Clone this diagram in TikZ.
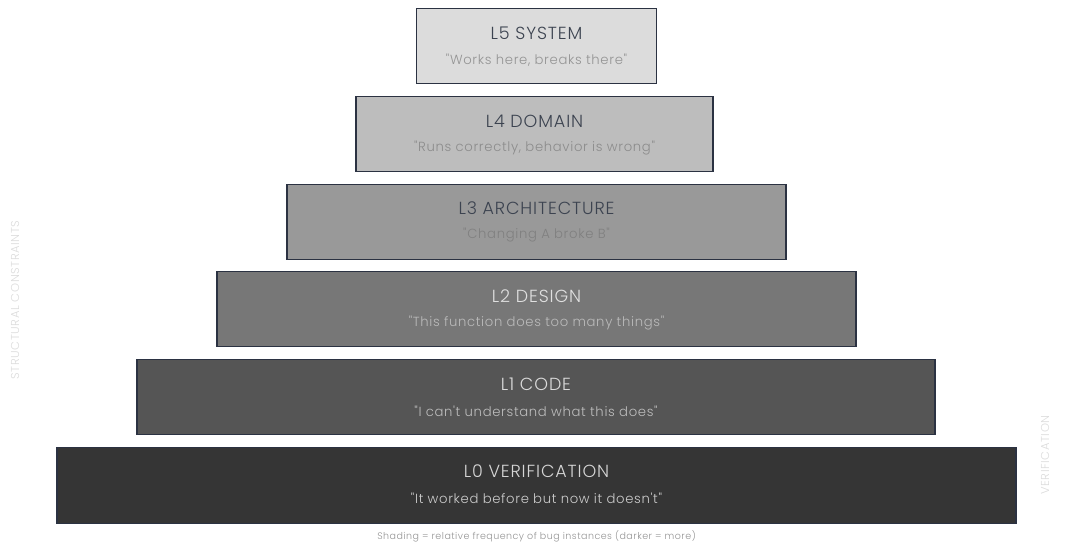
\documentclass[tikz,border=0pt]{standalone}
\usepackage{fontspec}
\setmainfont{Poppins}[UprightFont=* Light, Ligatures=TeXOff, LetterSpace=5]
\usetikzlibrary{calc}
\definecolor{edge}{HTML}{2B3242}
\definecolor{darkink}{HTML}{3C4350}
\definecolor{fillA}{HTML}{DCDCDC}
\definecolor{fillB}{HTML}{BDBDBD}
\definecolor{fillC}{HTML}{999999}
\definecolor{fillD}{HTML}{777777}
\definecolor{fillE}{HTML}{555555}
\definecolor{fillF}{HTML}{353535}
\tikzset{
  tier/.style={draw=edge, line width=1.4pt, inner sep=0pt, anchor=north, minimum height=75pt},
  tiertitle/.style={font=\fontsize{17.5}{19}\selectfont, anchor=center},
  tiernote/.style={font=\fontsize{13.2}{15}\selectfont, anchor=center},
  sidelabel/.style={font=\fontsize{11.5}{13}\selectfont, text=black!14, rotate=90, anchor=center}
}
\begin{document}
\begin{tikzpicture}[x=1pt,y=-1pt]
\useasboundingbox (0,0) rectangle (1075,547);
% the six tiers, narrowest on top
\node[tier, fill=fillA, minimum width=240pt] (t5) at (536.5,8) {};
\node[tier, fill=fillB, minimum width=357pt] (t4) at (534.5,96) {};
\node[tier, fill=fillC, minimum width=499pt] (t3) at (536.5,183.5) {};
\node[tier, fill=fillD, minimum width=639pt] (t2) at (536.5,271) {};
\node[tier, fill=fillE, minimum width=798pt] (t1) at (536,359) {};
\node[tier, fill=fillF, minimum width=959pt, minimum height=76pt] (t0) at (536.5,446.5) {};
% titles and quotes
\node[tiertitle, text=darkink]  (t5a) at ($(t5.north)+(0,25)$) {L5 SYSTEM};
\node[tiernote,  text=black!42] (t5b) at ($(t5.north)+(0,52)$) {"Works here, breaks there"};
\node[tiertitle, text=darkink]  (t4a) at ($(t4.north)+(0,25)$) {L4 DOMAIN};
\node[tiernote,  text=black!45] (t4b) at ($(t4.north)+(0,52)$) {"Runs correctly, behavior is wrong"};
\node[tiertitle, text=darkink]  (t3a) at ($(t3.north)+(0,25)$) {L3 ARCHITECTURE};
\node[tiernote,  text=black!50] (t3b) at ($(t3.north)+(0,52)$) {"Changing A broke B"};
\node[tiertitle, text=black!12] (t2a) at ($(t2.north)+(0,25)$) {L2 DESIGN};
\node[tiernote,  text=black!27] (t2b) at ($(t2.north)+(0,52)$) {"This function does too many things"};
\node[tiertitle, text=black!14] (t1a) at ($(t1.north)+(0,25)$) {L1 CODE};
\node[tiernote,  text=black!26] (t1b) at ($(t1.north)+(0,52)$) {"I can't understand what this does"};
\node[tiertitle, text=black!16] (t0a) at ($(t0.north)+(0,25)$) {L0 VERIFICATION};
\node[tiernote,  text=black!20] (t0b) at ($(t0.north)+(0,52)$) {"It worked before but now it doesn't"};
% side labels and caption
\node[sidelabel] (lside) at (15,300) {STRUCTURAL CONSTRAINTS};
\node[sidelabel] (rside) at (1045,455) {VERIFICATION};
\node[font=\fontsize{9.5}{11}\selectfont, text=black!42] (cap) at (536.5,536) {Shading = relative frequency of bug instances (darker = more)};
\end{tikzpicture}
\end{document}
